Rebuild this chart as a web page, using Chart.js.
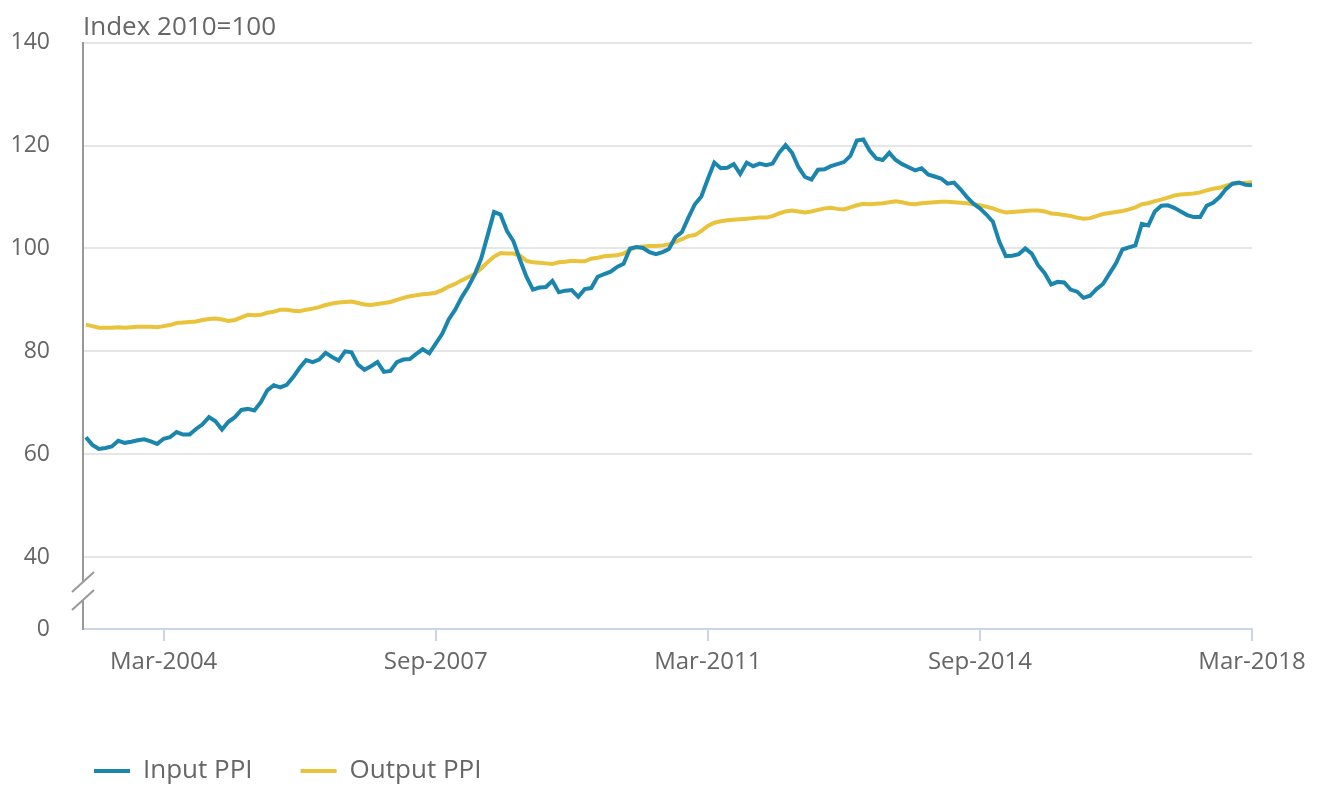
<!DOCTYPE html>
<html>
<head>
<meta charset="utf-8">
<title>Input and output PPI</title>
<script src="https://cdn.jsdelivr.net/npm/chart.js@4.4.0/dist/chart.umd.min.js"></script>
<style>
  html, body { margin: 0; padding: 0; background: #fff; }
  #wrap { width: 1318px; height: 786px; }
</style>
</head>
<body>
<div id="wrap"><canvas id="Chart"></canvas></div>
<script>
// monthly index values, Mar-2003 .. Mar-2018 (one row = Mar..Feb)
var inputPPI = [
  63.3, 61.8, 61.0, 61.2, 61.5, 62.6, 62.2, 62.4, 62.7, 62.9, 62.5, 62.0,
  63.0, 63.3, 64.3, 63.8, 63.8, 64.9, 65.8, 67.2, 66.4, 64.8, 66.3, 67.2,
  68.6, 68.8, 68.5, 70.1, 72.4, 73.4, 73.0, 73.5, 75.0, 76.8, 78.3, 77.9,
  78.4, 79.7, 78.9, 78.2, 80.0, 79.8, 77.4, 76.4, 77.1, 77.9, 76.0, 76.2,
  77.9, 78.4, 78.5, 79.5, 80.4, 79.6, 81.5, 83.4, 86.2, 88.1, 90.5, 92.5,
  94.9, 98.0, 102.5, 107.1, 106.6, 103.4, 101.4, 97.8, 94.5, 92.0, 92.4, 92.5,
  93.7, 91.5, 91.8, 91.9, 90.6, 92.1, 92.3, 94.5, 95.0, 95.5, 96.4, 97.0,
  100.0, 100.3, 100.1, 99.3, 98.9, 99.3, 99.9, 102.2, 103.2, 106.0, 108.6, 110.1,
  113.5, 116.7, 115.6, 115.7, 116.4, 114.5, 116.7, 116.0, 116.5, 116.2, 116.5, 118.6,
  120.1, 118.6, 115.8, 113.9, 113.4, 115.3, 115.4, 116.0, 116.4, 116.8, 118.0, 121.0,
  121.2, 119.0, 117.5, 117.2, 118.6, 117.2, 116.4, 115.8, 115.2, 115.6, 114.4, 114.0,
  113.6, 112.6, 112.8, 111.5, 110.0, 108.7, 107.8, 106.6, 105.2, 101.3, 98.5, 98.6,
  98.9, 100.0, 99.0, 96.7, 95.2, 93.0, 93.5, 93.4, 92.0, 91.6, 90.4, 90.8,
  92.1, 93.1, 95.1, 97.1, 99.8, 100.2, 100.6, 104.8, 104.5, 107.2, 108.3, 108.4,
  107.9, 107.2, 106.5, 106.1, 106.1, 108.3, 108.9, 110.0, 111.6, 112.6, 112.8, 112.4,
  112.3
];
var outputPPI = [
  85.2, 84.9, 84.6, 84.6, 84.6, 84.7, 84.6, 84.7, 84.8, 84.8, 84.8, 84.7,
  84.9, 85.1, 85.5, 85.6, 85.7, 85.8, 86.1, 86.3, 86.4, 86.2, 85.9, 86.1,
  86.6, 87.1, 87.0, 87.1, 87.5, 87.7, 88.1, 88.1, 87.9, 87.8, 88.1, 88.3,
  88.6, 89.0, 89.3, 89.5, 89.6, 89.7, 89.4, 89.1, 89.0, 89.2, 89.4, 89.6,
  90.0, 90.4, 90.7, 90.9, 91.1, 91.2, 91.4, 91.9, 92.6, 93.1, 93.8, 94.4,
  95.0, 96.1, 97.3, 98.4, 99.1, 99.0, 99.0, 98.6, 97.6, 97.3, 97.2, 97.1,
  97.0, 97.3, 97.4, 97.6, 97.5, 97.5, 98.0, 98.2, 98.5, 98.6, 98.7, 99.0,
  99.8, 100.2, 100.4, 100.5, 100.5, 100.6, 100.8, 101.3, 101.8, 102.4, 102.6, 103.4,
  104.4, 105.0, 105.3, 105.5, 105.6, 105.7, 105.8, 105.9, 106.0, 106.0, 106.3, 106.8,
  107.2, 107.4, 107.2, 107.0, 107.2, 107.5, 107.8, 107.9, 107.7, 107.6, 108.0, 108.4,
  108.7, 108.6, 108.7, 108.8, 109.0, 109.2, 109.0, 108.7, 108.6, 108.8, 108.9, 109.0,
  109.1, 109.1, 109.0, 108.9, 108.8, 108.6, 108.4, 108.1, 107.8, 107.3, 107.0, 107.1,
  107.2, 107.3, 107.4, 107.4, 107.2, 106.8, 106.7, 106.5, 106.3, 106.0, 105.8, 105.9,
  106.3, 106.7, 106.9, 107.1, 107.3, 107.6, 108.0, 108.6, 108.8, 109.2, 109.5, 109.9,
  110.3, 110.5, 110.6, 110.7, 110.9, 111.3, 111.6, 111.8, 112.2, 112.6, 112.7, 112.8,
  112.9
];
var xTickLabels = ["Mar-2004", "Sep-2007", "Mar-2011", "Sep-2014", "Mar-2018"];
var yTickValues = [0, 40, 60, 80, 100, 120, 140];
var axisFloor = 26; // where "0" sits below the axis break

var monthNames = ["Jan", "Feb", "Mar", "Apr", "May", "Jun", "Jul", "Aug", "Sep", "Oct", "Nov", "Dec"];
var labels = inputPPI.map(function (v, i) {
  var m = 2 + i; // first point is March 2003
  return monthNames[m % 12] + "-" + (2003 + Math.floor(m / 12));
});
function toPoints(values) {
  return values.map(function (v, i) { return { x: i, y: v }; });
}

Chart.defaults.font.family = "'Open Sans', sans-serif";
Chart.defaults.color = "#666";

// y axis title text and the break marks between 0 and 40
var titleAndBreak = {
  id: "titleAndBreak",
  afterLayout: function (chart) {
    // line the legend up under the plot instead of the canvas edge
    chart.legend.left += 36;
    chart.legend.right += 36;
  },
  afterDraw: function (chart) {
    var ctx = chart.ctx, area = chart.chartArea, y = chart.scales.y;
    ctx.save();
    ctx.font = "26px 'Open Sans'";
    ctx.fillStyle = "#666";
    ctx.textBaseline = "alphabetic";
    ctx.fillText("Index 2010=100", area.left, area.top - 8);

    var mid = (y.getPixelForValue(40) + y.getPixelForValue(axisFloor)) / 2 - 2;
    var x = area.left;
    ctx.fillStyle = "#fff";
    ctx.fillRect(x - 3, mid - 9, 6, 18);
    ctx.strokeStyle = "#999";
    ctx.lineWidth = 2;
    [-9, 9].forEach(function (d) {
      ctx.beginPath();
      ctx.moveTo(x - 11, mid + d + 10);
      ctx.lineTo(x + 11, mid + d - 10);
      ctx.stroke();
    });
    ctx.restore();
  }
};

var ctx = document.getElementById("Chart").getContext("2d");
var ppiChart = new Chart(ctx, {
  type: "line",
  data: {
    datasets: [
      {
        label: "Input PPI",
        data: toPoints(inputPPI),
        borderColor: "#1a86ad",
        backgroundColor: "#1a86ad",
        borderWidth: 4,
        pointRadius: 0,
        tension: 0
      },
      {
        label: "Output PPI",
        data: toPoints(outputPPI),
        borderColor: "#e8c33b",
        backgroundColor: "#e8c33b",
        borderWidth: 4,
        pointRadius: 0,
        tension: 0
      }
    ]
  },
  options: {
    responsive: true,
    maintainAspectRatio: false,
    animation: false,
    layout: { padding: { top: 40, left: 10, right: 66, bottom: -8 } },
    plugins: {
      tooltip: { enabled: false },
      legend: {
        position: "bottom",
        align: "start",
        labels: {
          usePointStyle: true,
          pointStyle: "line",
          pointStyleWidth: 36,
          padding: 48,
          color: "#666",
          font: { size: 26 }
        }
      }
    },
    scales: {
      x: {
        type: "linear",
        min: -0.45,
        max: labels.length - 1,
        afterBuildTicks: function (scale) {
          scale.ticks = xTickLabels.map(function (lab) {
            return { value: labels.indexOf(lab) };
          });
        },
        afterFit: function (scale) { scale.height = 81; },
        ticks: {
          autoSkip: false,
          maxRotation: 0,
          padding: 7,
          color: "#666",
          font: { size: 24 },
          callback: function (value) { return labels[value]; }
        },
        grid: { drawOnChartArea: false, tickLength: 12, color: "#ccd6eb", lineWidth: 2 },
        border: { color: "#ccd6eb", width: 2 }
      },
      y: {
        min: axisFloor,
        max: 140,
        afterBuildTicks: function (scale) {
          scale.ticks = yTickValues.map(function (v) {
            return { value: v === 0 ? axisFloor : v };
          });
        },
        afterFit: function (scale) { scale.width = 73; },
        ticks: {
          padding: 33,
          color: "#666",
          font: { size: 23, lineHeight: 0.85 },
          callback: function (value) { return value === axisFloor ? "0" : value; }
        },
        grid: {
          drawTicks: false,
          lineWidth: 2,
          color: function (c) {
            return c.tick && c.tick.value === axisFloor ? "rgba(0,0,0,0)" : "#e6e6e6";
          }
        },
        border: { color: "#999", width: 2 }
      }
    }
  },
  plugins: [titleAndBreak]
});
</script>
</body>
</html>
